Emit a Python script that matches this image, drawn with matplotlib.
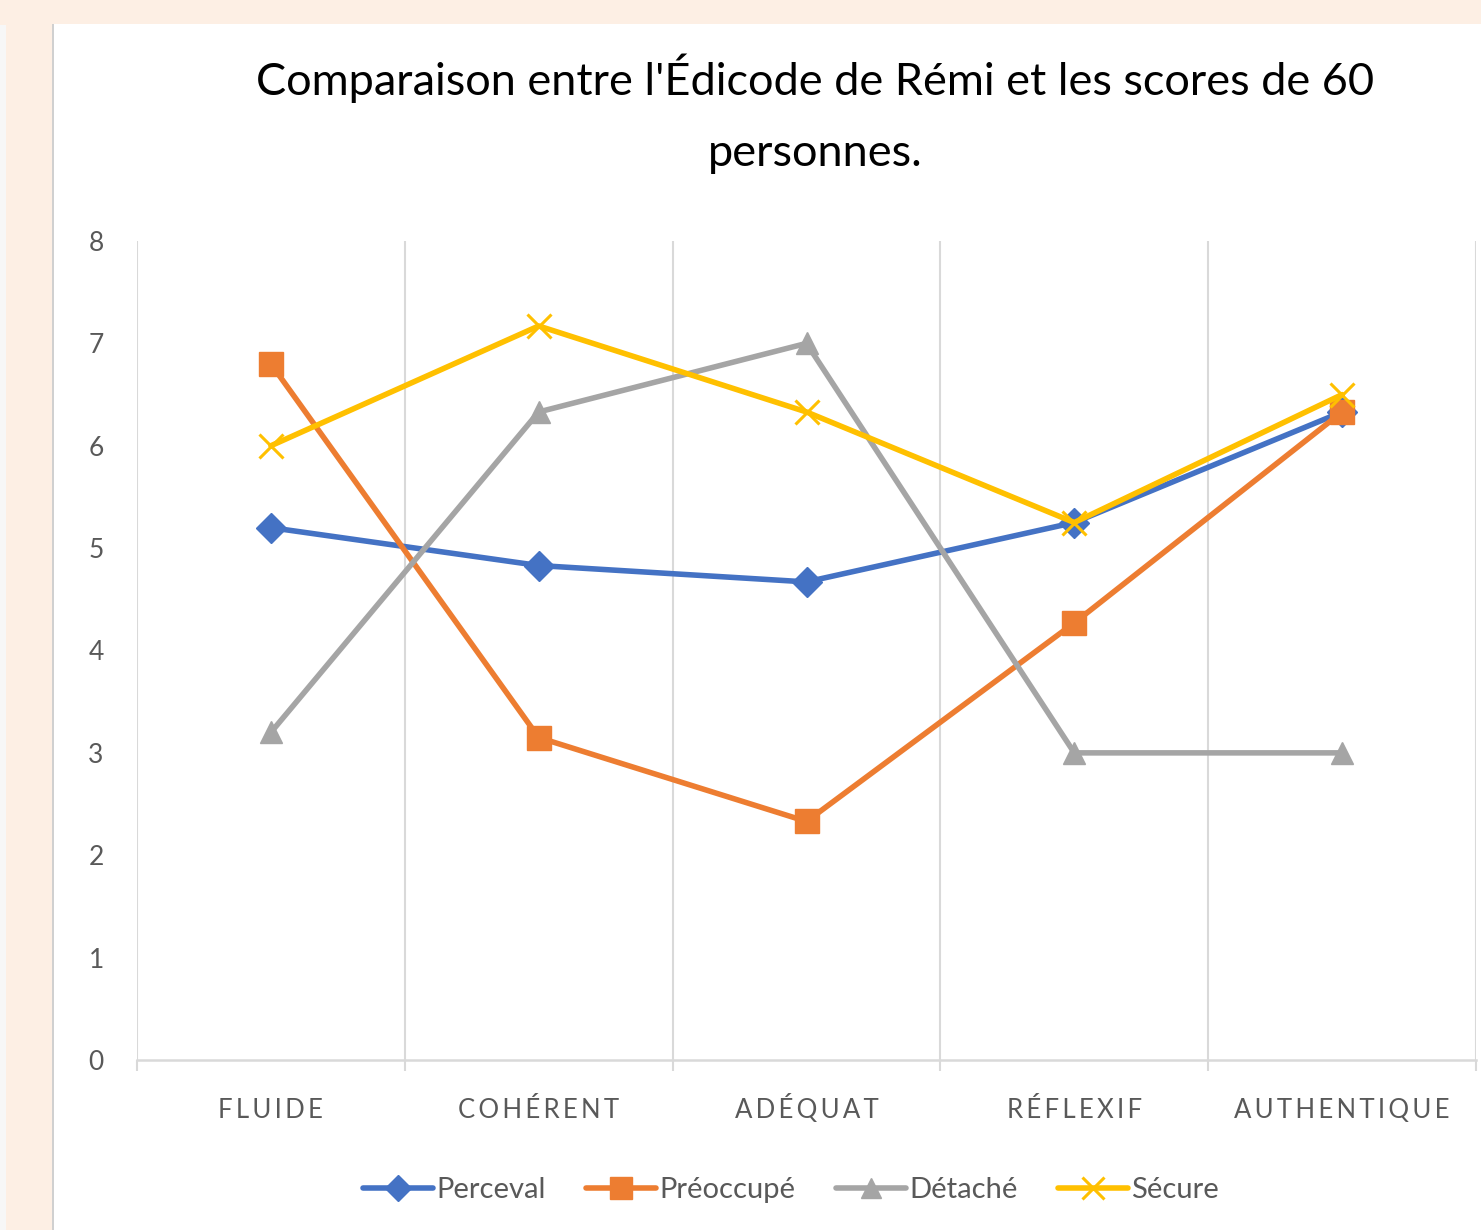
import matplotlib
matplotlib.use("Agg")
import matplotlib.pyplot as plt
from matplotlib.patches import Rectangle
import numpy as np

categories = ["FLUIDE", "COHÉRENT", "ADÉQUAT", "RÉFLEXIF", "AUTHENTIQUE"]
perceval = [5.2, 4.83, 4.67, 5.25, 6.33]
preoccupe = [6.8, 3.15, 2.33, 4.27, 6.33]
detache = [3.2, 6.33, 7.0, 3.0, 3.0]
secure = [6.0, 7.17, 6.33, 5.25, 6.5]
series_names = ["Perceval", "Préoccupé", "Détaché", "Sécure"]
yticks = [0, 1, 2, 3, 4, 5, 6, 7, 8]
title = "Comparaison entre l'Édicode de Rémi et les scores de 60\npersonnes."

FONT = ["Lato", "DejaVu Sans"]
plt.rcParams['font.family'] = FONT

fig = plt.figure(figsize=(14.81, 12.30), dpi=100)
fig.patch.set_facecolor("#FDEFE4")
# white chart panel
fig.add_artist(Rectangle((52/1481, 0), 1 - 52/1481, 1 - 24/1230,
                         transform=fig.transFigure, facecolor="white",
                         edgecolor="none", zorder=0))
fig.add_artist(Rectangle((52/1481, 0), 1.5/1481, 1 - 24/1230,
                         transform=fig.transFigure, facecolor="#D0D0D0",
                         edgecolor="none", zorder=0))
fig.add_artist(Rectangle((0, 0), 6/1481, 1 - 25/1230,
                         transform=fig.transFigure, facecolor="#F7F7F7",
                         edgecolor="none", zorder=0))

ax = fig.add_axes([137/1481, 1 - 1060/1230, (1476 - 137)/1481, (1060 - 241)/1230])
ax.set_facecolor("none")

x = np.arange(len(categories))
styles = [
    (perceval, "#4472C4", "D", 15, {}),
    (preoccupe, "#ED7D31", "s", 17, {}),
    (detache, "#A5A5A5", "^", 16, {}),
    (secure, "#FFC000", "x", 17, {"markeredgewidth": 2.2}),
]
for (vals, col, mk, ms, extra), name in zip(styles, series_names):
    ax.plot(x, vals, color=col, lw=4.0, marker=mk, markersize=ms,
            markerfacecolor=col, markeredgecolor=col, label=name,
            solid_capstyle="round", zorder=3, **extra)

ax.set_xlim(-0.5, len(categories) - 0.5)
ax.set_ylim(0, 8)
ax.set_yticks(yticks)
ax.set_yticklabels([str(v) for v in yticks], fontsize=19, color="#595959")
ax.tick_params(axis="y", length=0, pad=24)

spaced = ["\u200a\u200a".join(list(c)) for c in categories]
ax.set_xticks(x)
ax.set_xticklabels(spaced, fontsize=18.5, color="#595959")
ax.tick_params(axis="x", which="major", length=0, pad=42)
for lab in ax.get_xticklabels():
    lab.set_verticalalignment("baseline")

bounds = np.arange(-0.5, len(categories), 1.0)
ax.set_xticks(bounds, minor=True)
ax.tick_params(axis="x", which="minor", length=8, width=1.5, color="#D9D9D9", direction="out")
for b in bounds:
    ax.axvline(b, color="#D9D9D9", lw=1.5, zorder=1)

for s in ["top", "left", "right"]:
    ax.spines[s].set_visible(False)
ax.spines["bottom"].set_color("#D9D9D9")
ax.spines["bottom"].set_linewidth(1.8)

fig.text(815/1481, 1 - 114/1230, title, ha="center", va="center",
         fontsize=32.5, color="black", linespacing=1.9)

leg = fig.legend(loc="center", bbox_to_anchor=(791/1481, 1 - 1190/1230),
                 ncol=4, frameon=False, fontsize=21, handlelength=2.4,
                 columnspacing=1.4, handletextpad=0.1, markerscale=0.9)
for t in leg.get_texts():
    t.set_color("#595959")

fig.savefig("out.png", dpi=100, facecolor=fig.get_facecolor())
